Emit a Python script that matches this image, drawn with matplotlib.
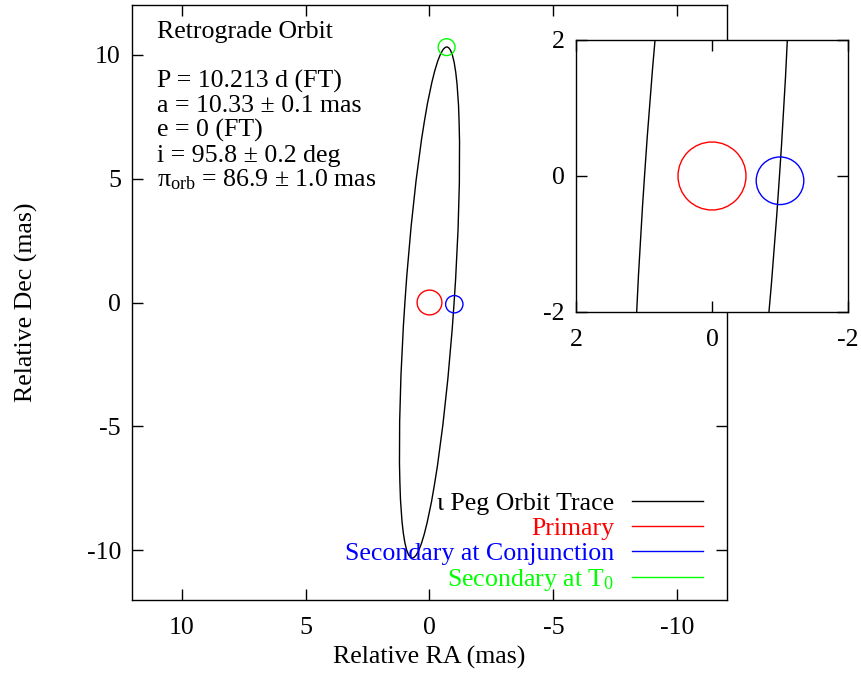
import matplotlib
matplotlib.use("Agg")
import matplotlib.pyplot as plt
from matplotlib.patches import Ellipse, Circle
from matplotlib.lines import Line2D

plt.rcParams['font.family'] = ['Liberation Serif', 'DejaVu Serif']
plt.rcParams['mathtext.fontset'] = 'custom'
plt.rcParams['mathtext.rm'] = 'Liberation Serif'
plt.rcParams['mathtext.it'] = 'Liberation Serif:italic'
plt.rcParams['axes.unicode_minus'] = False
FS = 18.6

# orbit trace (projected ellipse), centred on the primary
orbit_center = (0.0, 0.0)
orbit_semi_major = 10.33
orbit_semi_minor = 0.99
orbit_angle = 3.9   # deg

# star positions (RA, Dec) and radii, mas
star_names = ["Primary", "Secondary at Conjunction", "Secondary at T$_0$"]
star_ra = [0.0, -1.0, -0.69]
star_dec = [0.0, -0.07, 10.3]
star_radius = [0.5, 0.35, 0.34]
star_colors = ["#ff0000", "#0000ff", "#00ff00"]

main_ticks = [10, 5, 0, -5, -10]
inset_ticks = [2, 0, -2]

info_lines = ["P = 10.213 d (FT)",
              "a = 10.33 ± 0.1 mas",
              "e = 0 (FT)",
              "i = 95.8 ± 0.2 deg",
              "π$_{\\rm orb}$ = 86.9 ± 1.0 mas"]

fig = plt.figure(figsize=(8.62, 6.83), dpi=100)
ax = fig.add_axes([132/862, 1-600/683, 595/862, 595/683])
axi = fig.add_axes([576/862, 1-312/683, 272/862, 272/683])


def draw_orbit(a):
    a.add_patch(Ellipse(orbit_center, 2*orbit_semi_minor, 2*orbit_semi_major,
                        angle=orbit_angle, fill=False, ec='black', lw=1.0))
    for x, y, r, c in zip(star_ra, star_dec, star_radius, star_colors):
        a.add_patch(Circle((x, y), r, fill=False, ec=c, lw=1.0))


draw_orbit(ax)
draw_orbit(axi)

ax.set_xlim(12, -12)
ax.set_ylim(-12, 12)
ax.set_xticks(main_ticks)
ax.set_yticks(main_ticks)

axi.set_xlim(2, -2)
axi.set_ylim(-2, 2)
axi.set_xticks(inset_ticks)
axi.set_yticks(inset_ticks)

for a in (ax, axi):
    a.tick_params(direction='in', length=8, width=1, top=True, right=True,
                  labelsize=FS)
    a.tick_params(axis='x', pad=12)
    a.tick_params(axis='y', pad=8)
    for s in a.spines.values():
        s.set_linewidth(1.0)
axi.set_zorder(5)

ax.set_xlabel("Relative RA (mas)", fontsize=FS, labelpad=5)
ax.set_ylabel("Relative Dec (mas)", fontsize=FS, labelpad=35)

ax.text(11.0, 10.67, "Retrograde Orbit", fontsize=FS, ha='left', va='baseline')
for k, line in enumerate(info_lines):
    ax.text(11.0, 8.68 - 1.0*k, line, fontsize=FS, ha='left', va='baseline')

handles = [Line2D([], [], color='black', lw=1.0, label="ι Peg Orbit Trace")]
for name, c in zip(star_names, star_colors):
    handles.append(Line2D([], [], color=c, lw=1.0, label=name))
ax.legend(handles=handles, loc='lower right', bbox_to_anchor=(0.96, 0.012),
          markerfirst=False, frameon=False, labelcolor='linecolor',
          fontsize=FS, handlelength=2.75, handletextpad=0.68,
          labelspacing=0.07, borderpad=0, borderaxespad=0)

fig.savefig("out.png", dpi=100)
